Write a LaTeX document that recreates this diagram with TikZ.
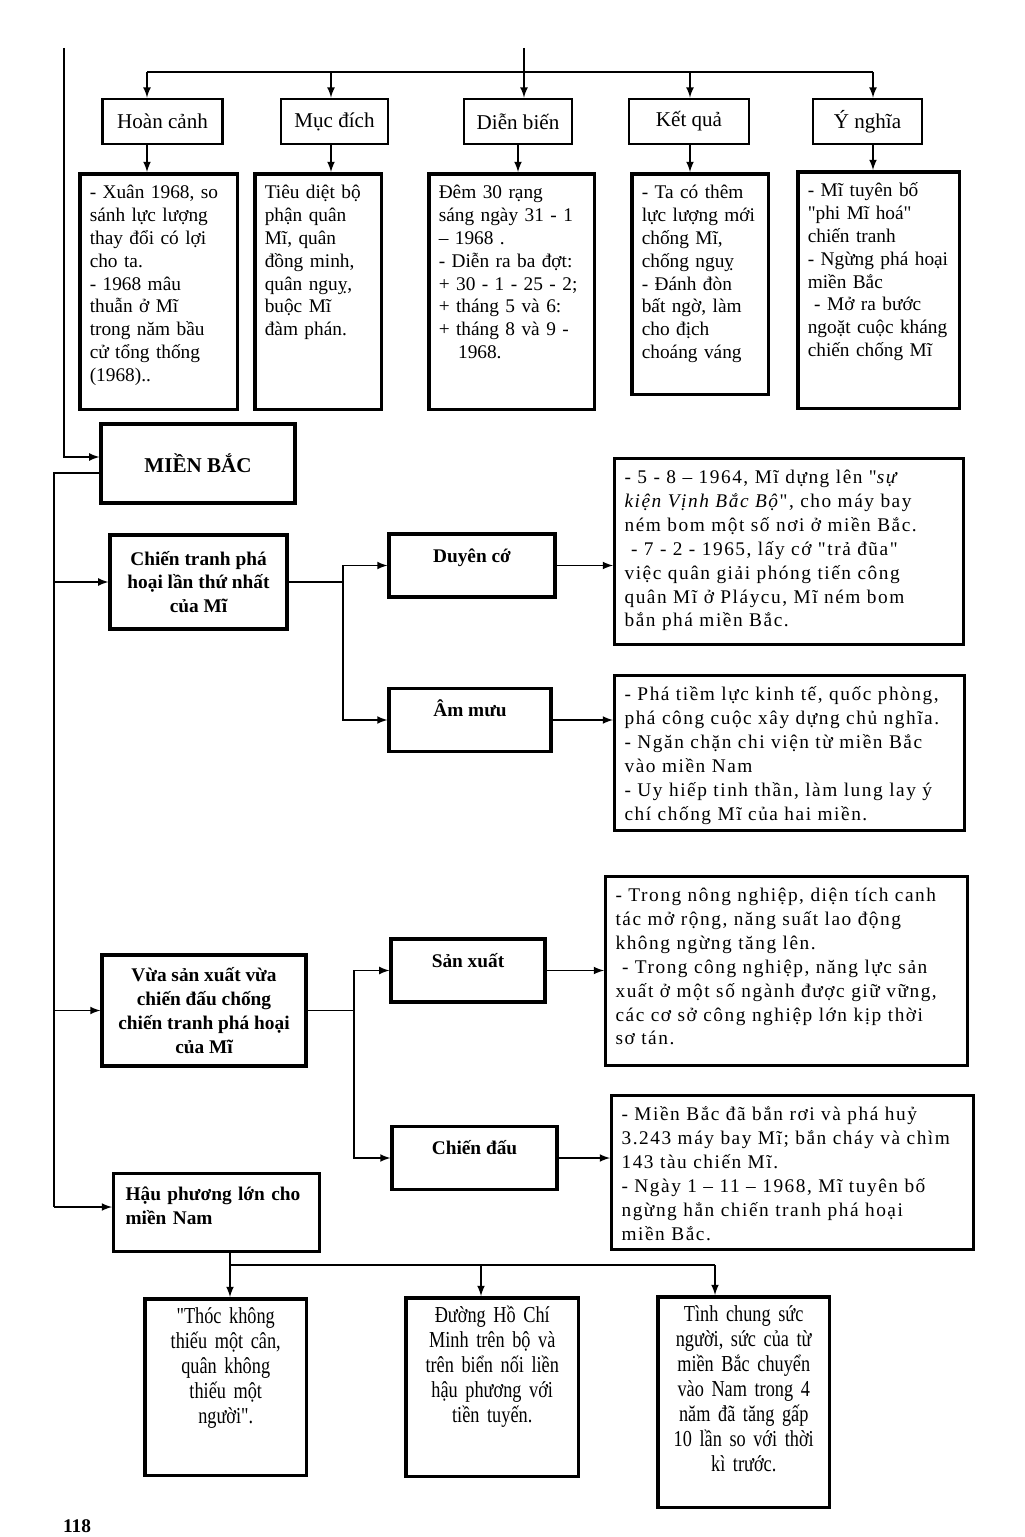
\documentclass[tikz,border=0pt]{standalone}
\usepackage{fontspec}
\setmainfont{Liberation Serif}[Ligatures=TeXOff]
\newfontfamily\widefont[LetterSpace=8, Ligatures=TeXOff]{Liberation Serif}
\newfontfamily\narrowfont[FakeStretch=0.8, Ligatures=TeXOff]{Liberation Serif}
\usetikzlibrary{arrows, positioning}

\begin{document}
\begin{tikzpicture}
  [x=0.02cm, y=-0.02cm, >=latex, line width=1pt,
   head/.style={draw, line width=1.6pt, minimum height=0.9cm, font=\fontsize{12}{14}\selectfont},
   info/.style={draw, line width=2pt, anchor=north west, align=left, inner sep=0.2cm, text height=0.3cm, font=\fontsize{11}{13}\selectfont},
   note/.style={info, line width=1.8pt, font=\widefont\fontsize{11}{13.6}\selectfont},
   fact/.style={info, align=center, font=\narrowfont\fontsize{13}{14.2}\selectfont},
   topic/.style={draw, line width=1.8pt, align=center, font=\bfseries\fontsize{11}{13.6}\selectfont},
   sub/.style={draw, line width=1.8pt, inner sep=0.1cm, text height=0.46cm, text depth=0.6cm, font=\bfseries\fontsize{11}{13}\selectfont}]
  \useasboundingbox (0, 0) rectangle (1024, 1537);

  \foreach \n/\x/\w/\t in {hc/162.5/2.4cm/Hoàn cảnh, md/334.5/2.14cm/Mục đích, db/518/2.16cm/Diễn biến, kq/689/2.4cm/Kết quả, yn/867.5/2.18cm/Ý nghĩa}
    \node (\n) at (\x, 121.5) [head, minimum width=\w] {\t};

  \node (hc-txt) at (78, 172) [info, text width=2.76cm, text depth=4.02cm]
    {- Xuân 1968, so\\ sánh lực lượng\\ thay đổi có lợi\\ cho ta.\\ - 1968 mâu\\ thuẫn ở Mĩ\\ trong năm bầu\\ cử tổng thống\\ (1968)..};
  \node (md-txt) at (253, 172) [info, text width=2.14cm, text depth=4.02cm]
    {Tiêu diệt bộ\\ phận quân\\ Mĩ, quân\\ đồng minh,\\ quân nguỵ,\\ buộc Mĩ\\ đàm phán.};
  \node (db-txt) at (427, 172) [info, text width=2.92cm, text depth=4.02cm]
    {Đêm 30 rạng\\ sáng ngày 31 - 1\\ – 1968 .\\ - Diễn ra ba đợt:\\ + 30 - 1 - 25 - 2;\\ + tháng 5 và 6:\\ + tháng 8 và 9 -\\ \quad 1968.};
  \node (kq-txt) at (630, 172) [info, text width=2.34cm, text depth=3.72cm]
    {- Ta có thêm\\ lực lượng mới\\ chống Mĩ,\\ chống nguỵ\\ - Đánh đòn\\ bất ngờ, làm\\ cho địch\\ choáng váng};
  \node (yn-txt) at (796, 170) [info, text width=2.84cm, text depth=4.04cm]
    {- Mĩ tuyên bố\\ "phi Mĩ hoá"\\ chiến tranh\\ - Ngừng phá hoại\\ miền Bắc\\ \ - Mở ra bước\\ ngoặt cuộc kháng\\ chiến chống Mĩ};

  \coordinate (top) at (524, 48);
  \coordinate (left) at (64, 48);
  \foreach \n/\x in {hc/147, md/331, db/518, kq/690, yn/873}
    \coordinate (x\n) at (\x, 72);
  \draw (xhc) -- (xyn);
  \draw [->] (top) -- (top |- db.north);
  \foreach \n in {hc, md, kq, yn}
    \draw [->] (x\n) -- (x\n |- \n.north);
  \foreach \n in {hc, md, db, kq, yn}
    \draw [->] (x\n |- \n.south) -- (x\n |- \n-txt.north);

  \node (mb) at (198, 463.5) [topic, minimum width=3.88cm, minimum height=1.58cm, font=\bfseries\fontsize{12}{14}\selectfont] {MIỀN BẮC};
  \node (ct) at (198.5, 582) [topic, minimum width=3.54cm, minimum height=1.88cm]
    {Chiến tranh phá\\ hoại lần thứ nhất\\ của Mĩ};
  \node (vs) at (204, 1010.5) [topic, minimum width=4.08cm, minimum height=2.22cm]
    {Vừa sản xuất vừa\\ chiến đấu chống\\ chiến tranh phá hoại\\ của Mĩ};
  \node (hp) at (112, 1172) [info, line width=1.8pt, inner sep=0.24cm, text width=3.64cm, text depth=0.78cm, font=\bfseries\fontsize{11}{13.6}\selectfont]
    {Hậu phương lớn cho\\ miền Nam};

  \node (dc) at (472, 565.5) [sub, minimum width=3.32cm] {Duyên cớ};
  \node (am) at (470, 720) [sub, minimum width=3.24cm] {Âm mưu};
  \node (sx) at (468, 970.5) [sub, minimum width=3.08cm] {Sản xuất};
  \node (cd) at (474.5, 1158) [sub, minimum width=3.3cm] {Chiến đấu};

  \node (dc-txt) at (613, 457) [note, text width=6.58cm, text depth=3.02cm]
    {- 5 - 8 – 1964, Mĩ dựng lên "\textit{sự}\\ \textit{kiện Vịnh Bắc Bộ}", cho máy bay\\ ném bom một số nơi ở miền Bắc.\\ \ - 7 - 2 - 1965, lấy cớ "trả đũa"\\ việc quân giải phóng tiến công\\ quân Mĩ ở Pláycu, Mĩ ném bom\\ bắn phá miền Bắc.};
  \node (am-txt) at (613, 674) [note, text width=6.6cm, text depth=2.4cm]
    {- Phá tiềm lực kinh tế, quốc phòng,\\ phá công cuộc xây dựng chủ nghĩa.\\ - Ngăn chặn chi viện từ miền Bắc\\ vào miền Nam\\ - Uy hiếp tinh thần, làm lung lay ý\\ chí chống Mĩ của hai miền.};
  \node (sx-txt) at (604, 875) [note, text width=6.84cm, text depth=3.08cm]
    {- Trong nông nghiệp, diện tích canh\\ tác mở rộng, năng suất lao động\\ không ngừng tăng lên.\\ \ - Trong công nghiệp, năng lực sản\\ xuất ở một số ngành được giữ vững,\\ các cơ sở công nghiệp lớn kịp thời\\ sơ tán.};
  \node (cd-txt) at (610, 1094) [note, text width=6.84cm, text depth=2.38cm]
    {- Miền Bắc đã bắn rơi và phá huỷ\\ 3.243 máy bay Mĩ; bắn cháy và chìm\\ 143 tàu chiến Mĩ.\\ - Ngày 1 – 11 – 1968, Mĩ tuyên bố\\ ngừng hẳn chiến tranh phá hoại\\ miền Bắc.};

  \node (b1) at (143, 1297) [fact, text width=2.84cm, text depth=2.84cm]
    {"Thóc không\\ thiếu một cân,\\ quân không\\ thiếu một\\ người".};
  \node (b2) at (404, 1296) [fact, text width=3.06cm, text depth=2.88cm]
    {Đường Hồ Chí\\ Minh trên bộ và\\ trên biển nối liền\\ hậu phương với\\ tiền tuyến.};
  \node (b3) at (656, 1295) [fact, text width=3.04cm, text depth=3.52cm]
    {Tình chung sức\\ người, sức của từ\\ miền Bắc chuyển\\ vào Nam trong 4\\ năm đã tăng gấp\\ 10 lần so với thời\\ kì trước.};

  \node (page) at (77, 1526) [font=\bfseries\fontsize{11}{13}\selectfont] {118};

  \draw [->] (left) |- ([yshift=0.13cm]mb.west);
  \coordinate (spine) at (54, 1207);
  \draw ([yshift=-0.19cm]mb.west) -| (spine);
  \draw [->] (spine |- ct.west) -- (ct.west);
  \draw [->] (spine |- vs.west) -- (vs.west);
  \draw [->] (spine) -- (spine -| hp.west);

  \coordinate (fork1) at (343, 582);
  \draw (ct.east) -- (fork1);
  \draw [->] (fork1) |- (dc.west);
  \draw [->] (fork1) |- (am.west);
  \coordinate (fork2) at (354, 1010.5);
  \draw (vs.east) -- (fork2);
  \draw [->] (fork2) |- (sx.west);
  \draw [->] (fork2) |- (cd.west);
  \foreach \a in {dc, am, sx, cd}
    \draw [->] (\a.east) -- (\a.east -| \a-txt.west);

  \coordinate (r1) at (230, 1265);
  \coordinate (r2) at (481, 1265);
  \coordinate (r3) at (715, 1265);
  \draw (r1 |- hp.south) -- (r1) -- (r3);
  \foreach \i in {1, 2, 3}
    \draw [->] (r\i) -- (r\i |- b\i.north);
\end{tikzpicture}
\end{document}
